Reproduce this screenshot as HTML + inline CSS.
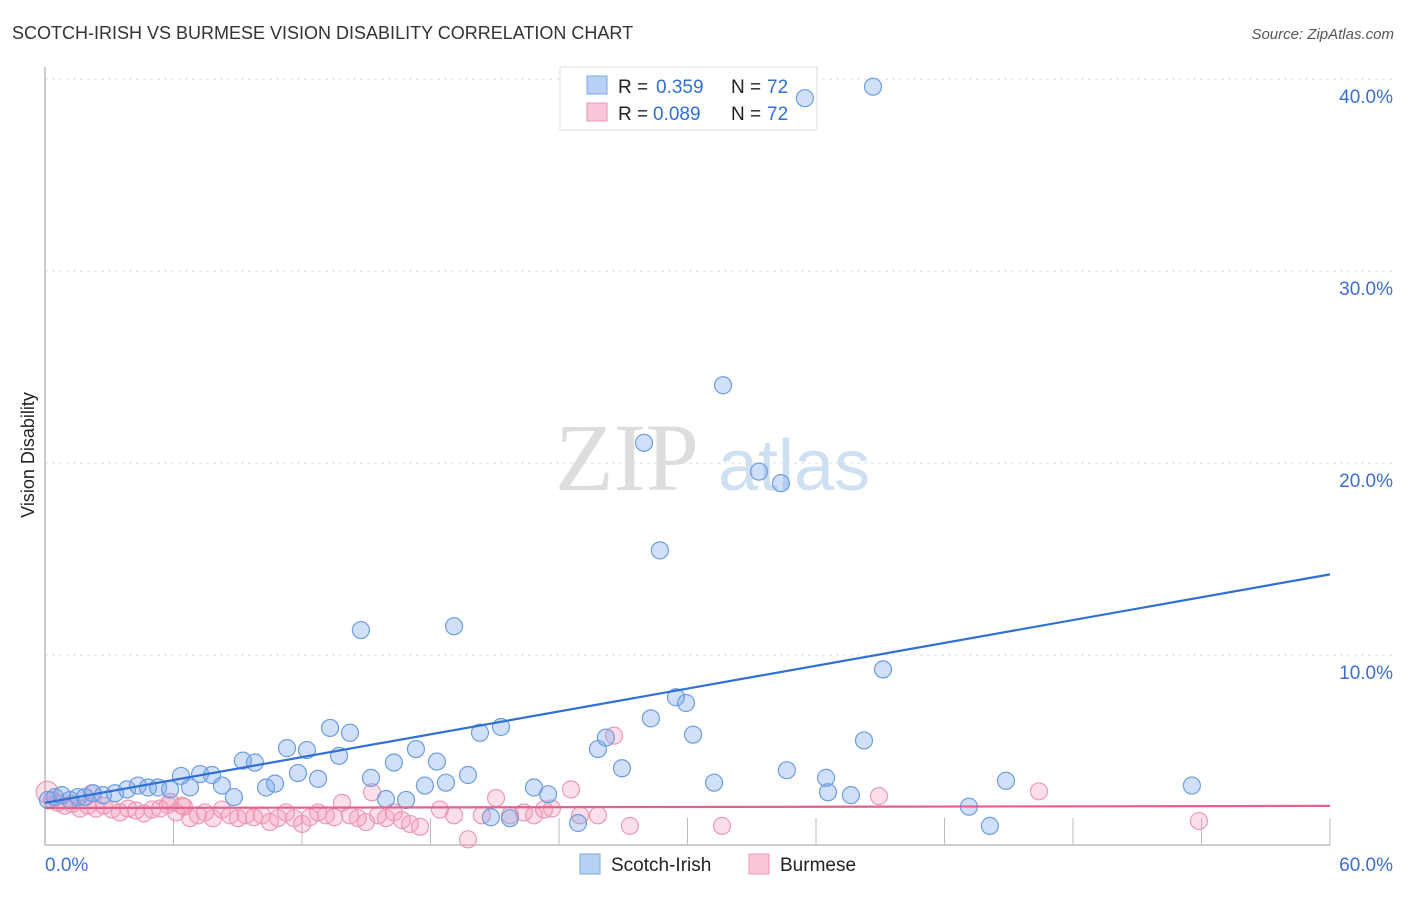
<!DOCTYPE html>
<html><head><meta charset="utf-8"><style>
body{margin:0;background:#fff;font-family:"Liberation Sans",sans-serif;}
</style></head><body>
<svg width="1406" height="892" xmlns="http://www.w3.org/2000/svg" id="chart">
<text x="12" y="39" font-size="18" fill="#333">SCOTCH-IRISH VS BURMESE VISION DISABILITY CORRELATION CHART</text>
<text x="1394" y="39" font-size="15" fill="#555" font-style="italic" text-anchor="end">Source: ZipAtlas.com</text>
<g>
<text x="555" y="490" font-size="96" font-family="Liberation Serif,serif" fill="#ddd">ZIP</text>
<text x="718" y="490" font-size="72" fill="#cfe0f3">atlas</text>
</g>
<text transform="translate(34,455) rotate(-90)" font-size="18" fill="#222" text-anchor="middle">Vision Disability</text>
<g id="grid"></g>
<g>
<rect x="560" y="67" width="257" height="63" fill="#fff" stroke="#ddd"/>
<rect x="587" y="76" width="20" height="18" fill="#b7d1f5" stroke="#7ea6e6"/>
<text x="618" y="93" font-size="19" fill="#222">R =</text><text x="656" y="93" font-size="19" fill="#2f6fd6">0.359</text>
<text x="731" y="93" font-size="19" fill="#222">N =</text><text x="767" y="93" font-size="19" fill="#2f6fd6">72</text>
<rect x="587" y="103" width="20" height="18" fill="#f9c7d6" stroke="#ec9ab3"/>
<text x="618" y="120" font-size="19" fill="#222">R =</text><text x="653" y="120" font-size="19" fill="#2f6fd6">0.089</text>
<text x="731" y="120" font-size="19" fill="#222">N =</text><text x="767" y="120" font-size="19" fill="#2f6fd6">72</text>
</g>
<g id="pts"></g>
<g id="lines"></g>
<g>
<rect x="580" y="854" width="20" height="20" fill="#b7d1f5" stroke="#7ea6e6"/>
<text x="611" y="871" font-size="19" fill="#222">Scotch-Irish</text>
<rect x="749" y="854" width="20" height="20" fill="#f9c7d6" stroke="#ec9ab3"/>
<text x="780" y="871" font-size="19" fill="#222">Burmese</text>
</g>
</svg>
<script>
const xTicks=[0,60];
const yTicks=[10,20,30,40];
const blueX=[0.14,0.47,0.79,1.17,1.54,1.87,2.24,2.71,3.27,3.83,4.34,4.81,5.28,5.84,6.35,6.77,7.24,7.80,8.26,8.82,9.24,9.80,10.32,10.74,11.30,11.81,12.23,12.75,13.31,13.73,14.24,14.75,15.22,15.92,16.29,16.86,17.32,17.74,18.30,18.72,19.10,19.75,20.31,20.82,21.29,21.71,22.83,23.49,24.89,25.82,26.19,26.94,27.97,28.29,28.71,29.46,29.93,30.26,31.24,31.66,33.34,34.36,34.64,35.48,36.47,36.56,37.63,38.24,38.66,39.13,43.14,44.12,44.87,53.55];
const blueY=[2.45,2.6,2.7,2.45,2.6,2.6,2.8,2.7,2.8,3.0,3.2,3.1,3.1,3.0,3.7,3.1,3.8,3.75,3.2,2.6,4.5,4.4,3.1,3.3,5.15,3.85,5.05,3.55,6.2,4.75,5.95,11.3,3.6,2.5,4.4,2.45,5.1,3.2,4.45,3.35,11.5,3.75,5.95,1.55,6.25,1.5,3.1,2.75,1.25,5.1,5.7,4.1,21.05,6.7,15.45,7.8,7.5,5.85,3.35,24.05,19.55,18.95,4.0,39.0,3.6,2.85,2.7,5.55,39.6,9.25,2.1,1.1,3.45,3.2];
const pinkX=[0.1,0.33,0.6,0.93,1.26,1.63,2.0,2.38,2.75,3.13,3.5,3.88,4.25,4.62,5.0,5.37,5.74,6.12,6.49,6.77,7.14,7.47,7.84,8.26,8.64,9.01,9.38,9.76,10.13,10.5,10.88,11.25,11.63,12.0,12.37,12.75,13.12,13.5,13.87,14.24,14.61,14.99,15.27,15.55,15.92,16.29,16.67,17.04,17.51,18.44,19.1,19.75,20.4,21.06,21.71,22.36,22.83,23.3,23.67,24.56,24.98,25.82,26.57,27.31,31.61,38.94,46.41,53.88,2.19,5.84,6.4];
const pinkY=[2.85,2.45,2.3,2.15,2.25,2.0,2.15,2.0,2.15,1.95,1.8,2.0,1.9,1.75,1.95,2.0,2.2,1.8,2.1,1.5,1.65,1.8,1.5,1.95,1.65,1.5,1.65,1.55,1.65,1.3,1.5,1.8,1.5,1.2,1.55,1.8,1.65,1.55,2.3,1.65,1.5,1.3,2.85,1.65,1.5,1.8,1.4,1.2,1.05,1.95,1.65,0.4,1.65,2.55,1.65,1.8,1.65,1.95,2.0,3.0,1.65,1.65,5.8,1.1,1.1,2.65,2.9,1.35,2.8,2.35,2.15];
const blueTrend=[2.3,14.2];
const pinkTrend=[2.03,2.14];
const NS='http://www.w3.org/2000/svg';
const X0=45,X1=1330,Y0=847,PY=19.2;
function sx(v){return X0+(v-xTicks[0])/(xTicks[1]-xTicks[0])*(X1-X0);}
function sy(v){return Y0-v*PY;}
function mk(t,a,p){const e=document.createElementNS(NS,t);for(const k in a)e.setAttribute(k,a[k]);p.appendChild(e);return e;}
const grid=document.getElementById('grid');
yTicks.forEach(t=>{
 const l=mk('line',{x1:45,x2:1393,y1:sy(t),y2:sy(t),stroke:'#ddd','stroke-dasharray':'3,4'},grid);
 
 
 const tx=mk('text',{x:1393,y:sy(t)+24,'font-size':19,fill:'#3a6fd8','text-anchor':'end'},grid);
 tx.textContent=t.toFixed(1)+'%';
 
 
});
const ax=mk('line',{x1:45,x2:1330,y1:845,y2:845,stroke:'#bbb','stroke-width':1.5},grid);


const ay=mk('line',{x1:45,x2:45,y1:67,y2:845,stroke:'#bbb','stroke-width':1.5},grid);


for(let i=1;i<=10;i++){const x=X0+i*(X1-X0)/10;
 const tk=mk('line',{x1:x,x2:x,y1:818,y2:845,stroke:'#bbb'},grid);
 
 }
xTicks.forEach((t,i)=>{
 const tx=mk('text',{x:i?1393:45,y:871,'font-size':19,fill:'#3a6fd8','text-anchor':i?'end':'start'},grid);
 tx.textContent=t.toFixed(1)+'%';
 
 
});
const pts=document.getElementById('pts');
pinkX.forEach((v,i)=>{
 const c=mk('circle',{cx:sx(v),cy:sy(pinkY[i]),r:i==0?11:8.5,fill:'rgba(245,150,180,0.3)',stroke:'#ec9ab3','stroke-width':1.2},pts);
 
 
});
blueX.forEach((v,i)=>{
 const c=mk('circle',{cx:sx(v),cy:sy(blueY[i]),r:8.5,fill:'rgba(120,165,235,0.35)',stroke:'#6d9de0','stroke-width':1.2},pts);
 
 
});
const lines=document.getElementById('lines');
const bl=mk('line',{x1:sx(0),y1:sy(blueTrend[0]),x2:sx(60),y2:sy(blueTrend[1]),stroke:'#2f6fd6','stroke-width':2.2},lines);


const pl=mk('line',{x1:sx(0),y1:sy(pinkTrend[0]),x2:sx(60),y2:sy(pinkTrend[1]),stroke:'#e6608c','stroke-width':2.2},lines);


</script>
</body></html>
